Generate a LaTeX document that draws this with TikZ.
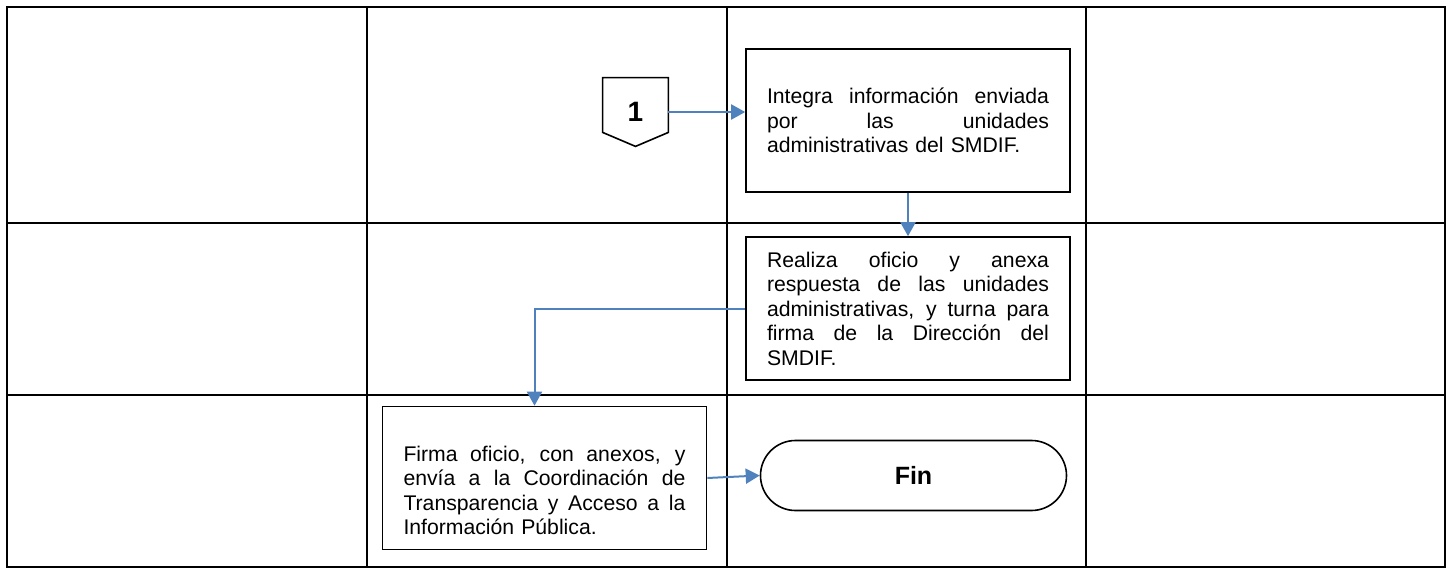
\documentclass[tikz,border=0pt]{standalone}
\usepackage{fontspec}
\setmainfont{Liberation Sans}
\usetikzlibrary{arrows.meta,calc,positioning}
\definecolor{FlowBlue}{RGB}{79,129,189}

% justified line of a process box
\newcommand{\jl}[1]{\makebox[141pt][s]{\spaceskip=0pt\xspaceskip=0pt #1}}

\tikzset{
	lane/.style={line width=1.2pt},
	proc/.style={draw, line width=0.8pt, minimum width=162pt, minimum height=71.5pt,
		text width=141pt, align=left, inner sep=0pt,
		font=\fontsize{10.6pt}{12.25pt}\selectfont},
	term/.style={draw, line width=0.8pt, rounded corners=17.5pt, minimum width=153pt,
		minimum height=35pt, inner sep=0pt, font=\bfseries\fontsize{12.5pt}{14pt}\selectfont},
	flow/.style={draw=FlowBlue, line width=1pt, -{Triangle[length=7pt,width=7.5pt]}}
}

\begin{document}
\begin{tikzpicture}[x=0.5pt, y=-0.5pt]
	\useasboundingbox (0,0) rectangle (1453,568);
	
	% tabla de carriles
	\draw[lane] (7,7) rectangle (1445,567);
	\foreach \x in {367,727,1086}
		\draw[lane] (\x,7) -- (\x,567);
	\foreach \y in {223,395}
		\draw[lane] (7,\y) -- (1445,\y);
	
	% conector 1
	\node[minimum width=32.5pt, minimum height=34pt, inner sep=0pt,
		font=\bfseries\fontsize{14pt}{16pt}\selectfont] (c1) at (635.5,112) {1};
	\draw[line width=0.8pt] (c1.north west) -- (c1.north east) -- ($(c1.south east)+(0,-14)$)
		-- (c1.south) -- ($(c1.south west)+(0,-14)$) -- cycle;
	
	\node[proc] (integra) at (908,120.5) {\jl{Integra información enviada}\\
		\jl{por las unidades}\\
		administrativas del SMDIF.};
	\node[proc] (realiza) at (908,308.5) {\jl{Realiza oficio y anexa}\\
		\jl{respuesta de las unidades}\\
		\jl{administrativas, y turna para}\\
		\jl{firma de la Dirección del}\\
		SMDIF.};
	\node[proc] (firma) at (544.5,478) {\rule{0pt}{20pt}\jl{Firma oficio, con anexos, y}\\
		\jl{envía a la Coordinación de}\\
		\jl{Transparencia y Acceso a la}\\
		Información Pública.};
	\node[term] (fin) at (913.5,475.5) {Fin};
	
	% flechas
	\draw[flow] (c1.east) -- (c1.east -| integra.west);
	\draw[flow] (integra.south) -- (realiza.north);
	\draw[flow] (realiza.west) -| ($(firma.north)+(-10,0)$);
	\draw[flow] (firma.east) -- (fin.west);
\end{tikzpicture}
\end{document}
